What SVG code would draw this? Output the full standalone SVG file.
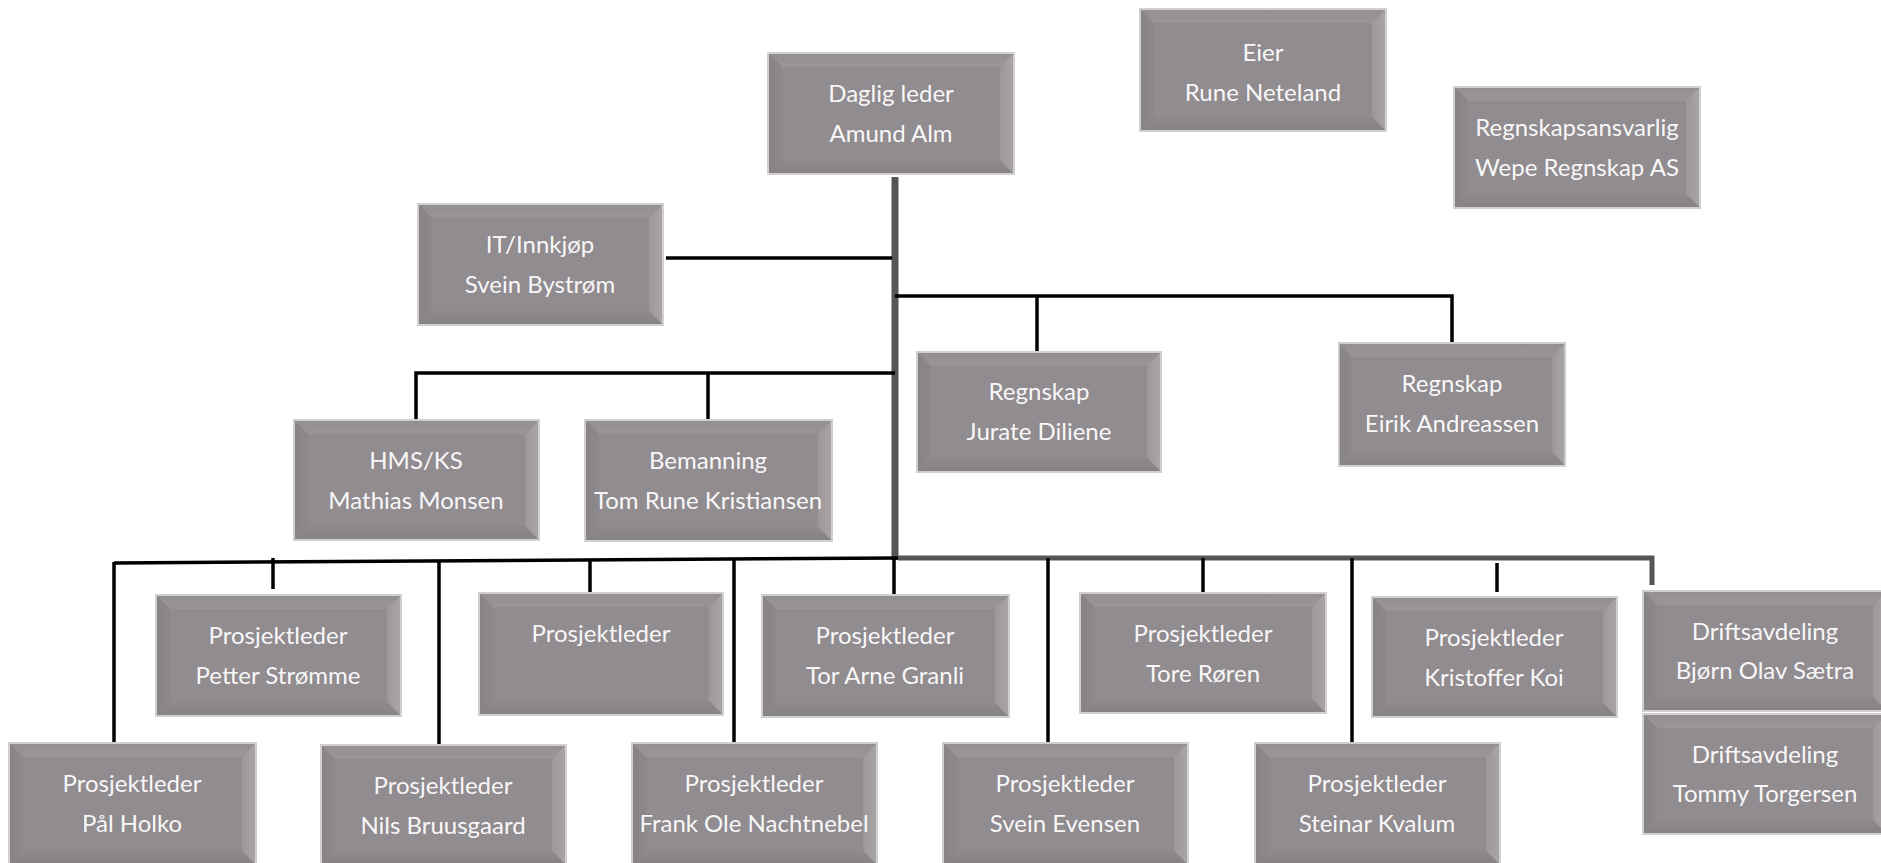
<svg xmlns="http://www.w3.org/2000/svg" width="1881" height="863" viewBox="0 0 1881 863">
<style>
.t{font-family:Lato,"Open Sans","Liberation Sans",sans-serif;font-size:24px;fill:#ffffff;fill-opacity:0.96;text-anchor:middle}
.c{stroke:#000;stroke-width:3.5;fill:none;stroke-linecap:butt}
.g{stroke:#585454;fill:none}
</style>
<defs>
<linearGradient id="gt" x1="0" y1="0" x2="0" y2="1"><stop offset="0" stop-color="#948f93"/><stop offset="1" stop-color="#9a9599"/></linearGradient>
<linearGradient id="gl" x1="0" y1="0" x2="1" y2="0"><stop offset="0" stop-color="#888387"/><stop offset="1" stop-color="#8d888c"/></linearGradient>
<linearGradient id="gr" x1="0" y1="0" x2="1" y2="0"><stop offset="0" stop-color="#9b979a"/><stop offset="1" stop-color="#a8a4a7"/></linearGradient>
<linearGradient id="gb" x1="0" y1="0" x2="0" y2="1"><stop offset="0" stop-color="#8e898d"/><stop offset="1" stop-color="#878286"/></linearGradient>
<symbol id="bx" viewBox="0 0 246 122" preserveAspectRatio="none">
<rect width="246" height="122" fill="#d2cfd1"/>
<rect x="2" y="2" width="242" height="118" fill="#8e898d"/>
<polygon points="2,2 244,2 231,15 15,15" fill="url(#gt)"/>
<polygon points="2,2 15,15 15,107 2,120" fill="url(#gl)"/>
<polygon points="244,2 244,120 231,107 231,15" fill="url(#gr)"/>
<polygon points="2,120 244,120 231,107 15,107" fill="url(#gb)"/>
<rect x="15" y="15" width="216" height="92" fill="#918c90"/>
</symbol>
</defs>
<rect width="1881" height="863" fill="#ffffff"/>
<g id="connectors">
<line class="g" x1="895" y1="177" x2="895" y2="560" stroke-width="7"/>
<line class="c" x1="666" y1="258" x2="892" y2="258"/>
<polyline class="c" points="895,296 1452,296 1452,342"/>
<line class="c" x1="1037" y1="296" x2="1037" y2="351"/>
<polyline class="c" points="416,420 416,373 895,373"/>
<line class="c" x1="708" y1="373" x2="708" y2="419"/>
<line class="c" x1="114" y1="563" x2="898" y2="558"/>
<polyline class="g" points="898,558 1652,558 1652,585" stroke-width="5"/>
<line class="c" x1="114" y1="562" x2="114" y2="742"/>
<line class="c" x1="273" y1="558" x2="273" y2="589"/>
<line class="c" x1="439" y1="562" x2="439" y2="744"/>
<line class="c" x1="590" y1="561" x2="590" y2="592"/>
<line class="c" x1="734" y1="560" x2="734" y2="742"/>
<line class="c" x1="894" y1="557" x2="894" y2="594"/>
<line class="c" x1="1048" y1="558" x2="1048" y2="742"/>
<line class="c" x1="1203" y1="558" x2="1203" y2="592"/>
<line class="c" x1="1352" y1="558" x2="1352" y2="742"/>
<line class="c" x1="1497" y1="563" x2="1497" y2="592"/>
</g>
<g id="n-daglig"><use href="#bx" x="767" y="52" width="248" height="123"/><text class="t"><tspan x="891" y="102">Daglig leder</tspan><tspan x="891" y="142">Amund Alm</tspan></text></g>
<g id="n-eier"><use href="#bx" x="1139" y="8" width="248" height="124"/><text class="t"><tspan x="1263" y="61">Eier</tspan><tspan x="1263" y="101">Rune Neteland</tspan></text></g>
<g id="n-regnskapsansvarlig"><use href="#bx" x="1453" y="86" width="248" height="123"/><text class="t"><tspan x="1577" y="136">Regnskapsansvarlig</tspan><tspan x="1577" y="176">Wepe Regnskap AS</tspan></text></g>
<g id="n-it"><use href="#bx" x="417" y="203" width="247" height="123"/><text class="t"><tspan x="540" y="253">IT/Innkjøp</tspan><tspan x="540" y="293">Svein Bystrøm</tspan></text></g>
<g id="n-jurate"><use href="#bx" x="916" y="351" width="246" height="122"/><text class="t"><tspan x="1039" y="400">Regnskap</tspan><tspan x="1039" y="440">Jurate Diliene</tspan></text></g>
<g id="n-eirik"><use href="#bx" x="1338" y="342" width="228" height="125"/><text class="t"><tspan x="1452" y="392">Regnskap</tspan><tspan x="1452" y="432">Eirik Andreassen</tspan></text></g>
<g id="n-hms"><use href="#bx" x="293" y="419" width="247" height="122"/><text class="t"><tspan x="416" y="469">HMS/KS</tspan><tspan x="416" y="509">Mathias Monsen</tspan></text></g>
<g id="n-bemanning"><use href="#bx" x="584" y="419" width="249" height="123"/><text class="t"><tspan x="708" y="469">Bemanning</tspan><tspan x="708" y="509">Tom Rune Kristiansen</tspan></text></g>
<g id="n-petter"><use href="#bx" x="155" y="594" width="247" height="123"/><text class="t"><tspan x="278" y="644">Prosjektleder</tspan><tspan x="278" y="684">Petter Strømme</tspan></text></g>
<g id="n-prosjektleder"><use href="#bx" x="478" y="592" width="246" height="124"/><text class="t"><tspan x="601" y="642">Prosjektleder</tspan></text></g>
<g id="n-torarne"><use href="#bx" x="761" y="594" width="249" height="124"/><text class="t"><tspan x="885" y="644">Prosjektleder</tspan><tspan x="885" y="684">Tor Arne Granli</tspan></text></g>
<g id="n-tore"><use href="#bx" x="1079" y="592" width="248" height="122"/><text class="t"><tspan x="1203" y="642">Prosjektleder</tspan><tspan x="1203" y="682">Tore Røren</tspan></text></g>
<g id="n-kristoffer"><use href="#bx" x="1371" y="596" width="247" height="122"/><text class="t"><tspan x="1494" y="646">Prosjektleder</tspan><tspan x="1494" y="686">Kristoffer Koi</tspan></text></g>
<g id="n-bjorn"><use href="#bx" x="1642" y="590" width="246" height="122"/><text class="t"><tspan x="1765" y="640">Driftsavdeling</tspan><tspan x="1765" y="679">Bjørn Olav Sætra</tspan></text></g>
<g id="n-tommy"><use href="#bx" x="1642" y="713" width="246" height="122"/><text class="t"><tspan x="1765" y="763">Driftsavdeling</tspan><tspan x="1765" y="802">Tommy Torgersen</tspan></text></g>
<g id="n-pal"><use href="#bx" x="8" y="742" width="249" height="124"/><text class="t"><tspan x="132" y="792">Prosjektleder</tspan><tspan x="132" y="832">Pål Holko</tspan></text></g>
<g id="n-nils"><use href="#bx" x="320" y="744" width="247" height="122"/><text class="t"><tspan x="443" y="794">Prosjektleder</tspan><tspan x="443" y="834">Nils Bruusgaard</tspan></text></g>
<g id="n-frank"><use href="#bx" x="631" y="742" width="247" height="124"/><text class="t"><tspan x="754" y="792">Prosjektleder</tspan><tspan x="754" y="832">Frank Ole Nachtnebel</tspan></text></g>
<g id="n-svein"><use href="#bx" x="942" y="742" width="247" height="124"/><text class="t"><tspan x="1065" y="792">Prosjektleder</tspan><tspan x="1065" y="832">Svein Evensen</tspan></text></g>
<g id="n-steinar"><use href="#bx" x="1254" y="742" width="247" height="124"/><text class="t"><tspan x="1377" y="792">Prosjektleder</tspan><tspan x="1377" y="832">Steinar Kvalum</tspan></text></g>
</svg>
